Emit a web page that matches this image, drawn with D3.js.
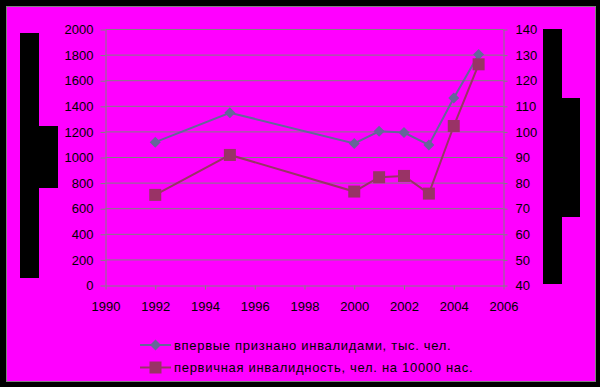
<!DOCTYPE html>
<html>
<head>
<meta charset="utf-8">
<script src="https://cdn.jsdelivr.net/npm/d3@7"></script>
<style>
  body { margin: 0; background: #000; }
  svg { display: block; }
  text { font-family: "Liberation Sans", Arial, sans-serif; font-size: 13px; fill: #000; }
</style>
</head>
<body>
<svg id="chart" width="600" height="387"></svg>
<script>
// data
const years = [1992, 1995, 2000, 2001, 2002, 2003, 2004, 2005];
const firstDisabled = [1120, 1350, 1110, 1205, 1195, 1098, 1465, 1805];   // тыс. чел.
const primaryRate = [75.4, 91.0, 76.7, 82.3, 82.8, 75.9, 102.3, 126.4];   // на 10000 нас.
const xTicks = [1990, 1992, 1994, 1996, 1998, 2000, 2002, 2004, 2006];
const leftTicks = [0, 200, 400, 600, 800, 1000, 1200, 1400, 1600, 1800, 2000];
const rightTicks = [40, 50, 60, 70, 80, 90, 100, 110, 120, 130, 140];
const seriesNames = ["впервые признано инвалидами, тыс. чел.", "первичная инвалидность, чел. на 10000 нас."];

const svg = d3.select("#chart");
const grid = "#808080";
const c1 = "#666699", c2 = "#993366";

// chart area
svg.append("rect").attr("x", 6.5).attr("y", 6.5).attr("width", 589).attr("height", 375)
    .attr("fill", "#ff00ff").attr("stroke", grid);

const x = d3.scaleLinear().domain([1990, 2006]).range([105.5, 503.5]);
const yL = d3.scaleLinear().domain([0, 2000]).range([285.5, 29.5]);
const yR = d3.scaleLinear().domain([40, 140]).range([285.5, 29.5]);

// gridlines
svg.append("g").selectAll("line").data(leftTicks.slice(1)).enter().append("line")
    .attr("x1", x(1990)).attr("x2", x(2006))
    .attr("y1", d => yL(d)).attr("y2", d => yL(d))
    .attr("stroke", grid);

// axes
function styleAxis(g) {
    g.selectAll("path, line").attr("stroke", grid);
    g.selectAll("text").style("fill", "#000");
}
svg.append("g").attr("transform", "translate(" + x(1990) + ",0)")
    .call(d3.axisLeft(yL).tickValues(leftTicks).tickFormat(d3.format("d")).tickSize(5).tickSizeOuter(0).tickPadding(7))
    .call(styleAxis);
svg.append("g").attr("transform", "translate(" + x(2006) + ",0)")
    .call(d3.axisRight(yR).tickValues(rightTicks).tickFormat(d3.format("d")).tickSize(4).tickSizeOuter(0).tickPadding(8))
    .call(styleAxis);
svg.append("g").attr("transform", "translate(0," + yL(0) + ")")
    .call(d3.axisBottom(x).tickValues(xTicks).tickFormat(d3.format("d")).tickSize(4).tickSizeOuter(0).tickPadding(12))
    .call(styleAxis);

// the axis titles come out as black blocks in the reference
const blocks = [
    [20, 33, 19, 245], [39, 126, 19, 62],
    [543, 29, 19, 255], [562, 98, 18, 119]
];
svg.append("g").selectAll("rect").data(blocks).enter().append("rect")
    .attr("x", d => d[0]).attr("y", d => d[1]).attr("width", d => d[2]).attr("height", d => d[3])
    .attr("fill", "#000");

const diamond = "M0,-5.5L5.5,0L0,5.5L-5.5,0Z";
const square = "M-6,-6H6V6H-6Z";

// series 1
svg.append("path").datum(years.map((yr, i) => [yr, firstDisabled[i]]))
    .attr("fill", "none").attr("stroke", c1).attr("stroke-width", 2)
    .attr("d", d3.line().x(d => x(d[0])).y(d => yL(d[1])));
svg.append("g").selectAll("path").data(years).enter().append("path")
    .attr("d", diamond).attr("fill", c1)
    .attr("transform", (d, i) => "translate(" + x(d) + "," + yL(firstDisabled[i]) + ")");

// series 2
svg.append("path").datum(years.map((yr, i) => [yr, primaryRate[i]]))
    .attr("fill", "none").attr("stroke", c2).attr("stroke-width", 2)
    .attr("d", d3.line().x(d => x(d[0])).y(d => yR(d[1])));
svg.append("g").selectAll("path").data(years).enter().append("path")
    .attr("d", square).attr("fill", c2)
    .attr("transform", (d, i) => "translate(" + x(d) + "," + yR(primaryRate[i]) + ")");

// legend
const legend = svg.append("g").selectAll("g").data(seriesNames).enter().append("g")
    .attr("transform", (d, i) => "translate(140," + (345 + i * 22.5) + ")");
legend.append("line").attr("x1", 0).attr("x2", 31)
    .attr("stroke", (d, i) => i ? c2 : c1).attr("stroke-width", 2);
legend.append("path")
    .attr("d", (d, i) => i ? square : diamond)
    .attr("transform", "translate(15.5,0)")
    .attr("fill", (d, i) => i ? c2 : c1);
legend.append("text").attr("x", 34).attr("dy", "0.35em")
    .style("letter-spacing", "0.7px")
    .text(d => d);
</script>
</body>
</html>
